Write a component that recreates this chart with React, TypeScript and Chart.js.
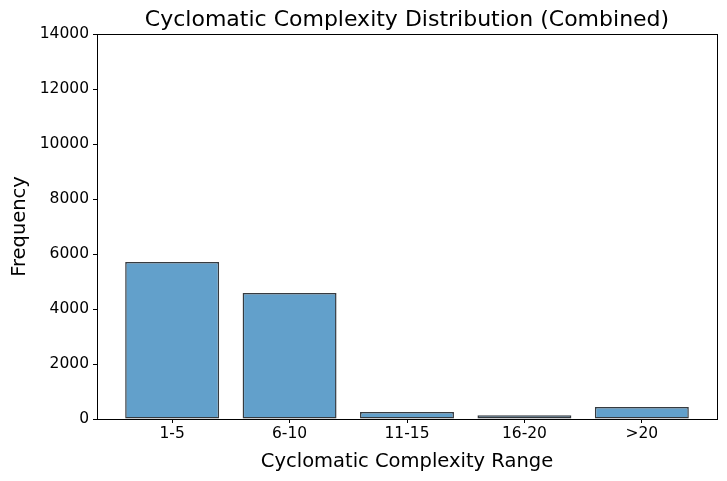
import React, { useEffect, useRef } from "react";
import { Chart, registerables } from "chart.js";

Chart.register(...registerables);

const categories = ["1-5", "6-10", "11-15", "16-20", ">20"];
const frequencies = [5710, 4580, 255, 135, 436];
const yTicks = [0, 2000, 4000, 6000, 8000, 10000, 12000, 14000];
const chartTitle = "Cyclomatic Complexity Distribution (Combined)";

const FONT = "'DejaVu Sans', sans-serif";

const framePlugin = {
  id: "frame",
  afterDraw(chart: any) {
    const { ctx, chartArea } = chart;
    ctx.save();
    ctx.strokeStyle = "#000";
    ctx.lineWidth = 1;
    ctx.strokeRect(
      Math.round(chartArea.left) + 0.5,
      Math.round(chartArea.top) + 0.5,
      Math.round(chartArea.right - chartArea.left),
      Math.round(chartArea.bottom - chartArea.top)
    );
    ctx.fillStyle = "#000";
    ctx.font = `22px ${FONT}`;
    ctx.textAlign = "center";
    ctx.textBaseline = "middle";
    ctx.fillText(chartTitle, (chartArea.left + chartArea.right) / 2, 20.5);
    ctx.restore();
  },
};

export default function App() {
  const ref = useRef<HTMLCanvasElement | null>(null);

  useEffect(() => {
    document.body.style.margin = "0";
    const canvas = ref.current;
    if (!canvas) return;
    const chart = new Chart(canvas, {
      type: "bar",
      data: {
        datasets: [
          {
            data: categories.map((_, i) => ({ x: i, y: frequencies[i] })),
            backgroundColor: "rgb(98,160,203)",
            borderColor: "#363b40",
            borderWidth: 1.5,
            borderSkipped: false,
            barPercentage: 0.8,
            categoryPercentage: 1,
          },
        ],
      },
      options: {
        animation: false,
        responsive: true,
        maintainAspectRatio: false,
        layout: { padding: { left: 0, right: 10, top: 34, bottom: 0 } },
        plugins: {
          legend: { display: false },
          tooltip: { enabled: false },
          title: { display: false },
        },
        scales: {
          x: {
            type: "linear",
            min: -0.64,
            max: 4.64,
            offset: false,
            grid: {
              offset: false,
              drawOnChartArea: false,
              drawTicks: true,
              tickLength: 4,
              color: "#000",
            },
            border: { display: false },
            afterBuildTicks: (scale: any) => {
              scale.ticks = categories.map((_, i) => ({ value: i }));
            },
            afterFit: (scale: any) => {
              scale.height = 62;
            },
            ticks: {
              color: "#000",
              font: { family: FONT, size: 15.5 },
              padding: 2,
              autoSkip: false,
              maxRotation: 0,
              callback: (v: any) => categories[Math.round(Number(v))] ?? "",
            },
            title: {
              display: true,
              text: "Cyclomatic Complexity Range",
              color: "#000",
              font: { family: FONT, size: 19.5 },
              padding: { top: 0, bottom: 7 },
            },
          },
          y: {
            type: "linear",
            min: 0,
            max: 14000,
            grid: {
              drawOnChartArea: false,
              drawTicks: true,
              tickLength: 4,
              color: "#000",
            },
            border: { display: false },
            afterBuildTicks: (scale: any) => {
              scale.ticks = yTicks.map((v) => ({ value: v }));
            },
            afterFit: (scale: any) => {
              scale.width = 97;
            },
            ticks: {
              color: "#000",
              font: { family: FONT, size: 15.5 },
              padding: 4,
              callback: (v: any) => String(v),
            },
            title: {
              display: true,
              text: "Frequency",
              color: "#000",
              font: { family: FONT, size: 19.5 },
              padding: { top: 8, bottom: 0 },
            },
          },
        },
      },
      plugins: [framePlugin],
    } as any);
    return () => chart.destroy();
  }, []);

  return (
    <div style={{ width: 727, height: 481, position: "relative" }}>
      <canvas ref={ref} />
    </div>
  );
}
